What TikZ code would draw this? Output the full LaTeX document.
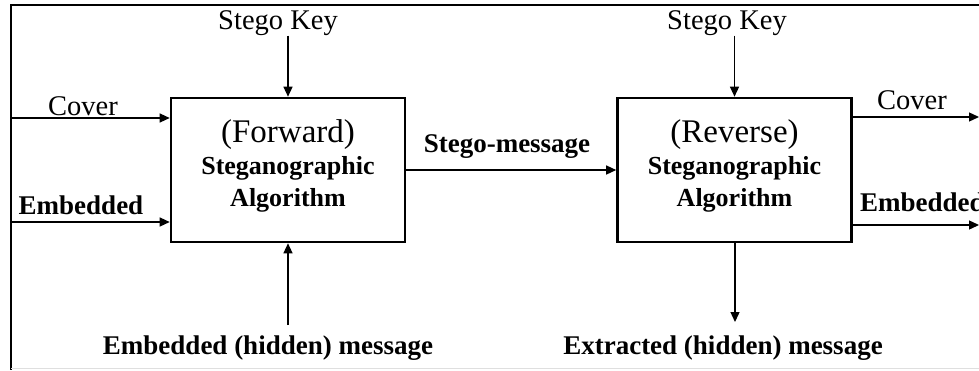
\documentclass[tikz,border=0pt]{standalone}
\usepackage{fontspec}
\setmainfont{Liberation Serif}
\usetikzlibrary{arrows.meta}
\tikzset{
 algbox/.style={draw,line width=2.6pt,minimum width=234pt,minimum height=144pt,inner sep=0pt},
 algtext/.style={align=center,inner sep=0pt,font=\fontsize{26}{32}\selectfont\bfseries},
 flow/.style={line width=1.3pt,-{Triangle[length=10pt,width=9pt]}},
 lbl/.style={inner sep=0pt,font=\fontsize{27}{30}\selectfont\bfseries},
 keylbl/.style={inner sep=0pt,font=\fontsize{28.5}{32}\selectfont}
}

\begin{document}
\begin{tikzpicture}[x=1pt,y=-1pt]
 \useasboundingbox (0,0) rectangle (979,370);
 \draw[line width=1.5pt] (979,5)--(11,5)--(11,370);
 \draw[gray!25,line width=1pt] (11,368)--(979,368);
 % the two algorithm blocks
 \node[algbox] (fwd) at (288,170) {};
 \node[algbox] (rev) at (734.5,170) {};
 \node[algtext] (fwdtxt) at (288,166)
 {{\fontsize{33}{32}\selectfont\mdseries (Forward)}\\Steganographic\\Algorithm};
 \node[algtext] (revtxt) at (734.5,166)
 {{\fontsize{33}{32}\selectfont\mdseries (Reverse)}\\Steganographic\\Algorithm};
 % labels
 \node[keylbl] (key1) at (278,23){Stego Key};
 \node[keylbl] (key2) at (727,23){Stego Key};
 \node[keylbl] (cov1) at (83,106){Cover};
 \node[lbl] (emb1) at (81,205){Embedded};
 \node[lbl] (smsg) at (507,147){Stego-message};
 \node[keylbl] (cov2) at (912,100){Cover};
 \node[lbl,anchor=west] (emb2) at (860,202){Embedded};
 \node[lbl] (hid) at (268,348){Embedded (hidden) message};
 \node[lbl] (ext) at (723,348){Extracted (hidden) message};
 % flows
 \coordinate (cin) at (10,118);\coordinate (ein) at (10,222);
 \coordinate (hidtop) at (288,325);\coordinate (extend) at (735,322);
 \coordinate (cout) at (979,117);\coordinate (eout) at (979,225);
 \draw[flow] (cin)--(cin -| fwd.west);
 \draw[flow] (ein)--(ein -| fwd.west);
 \draw[flow] (key1.south -| fwd.north)--(fwd.north);
 \draw[flow] (hidtop)--(fwd.south);
 \draw[flow] (fwd.east)--(rev.west);
 \draw[flow] (key2.south -| rev.north)--(rev.north);
 \draw[flow] (rev.south -| extend)--(extend);
 \draw[flow] (cout -| rev.east)--(cout);
 \draw[flow] (eout -| rev.east)--(eout);
\end{tikzpicture}
\end{document}
